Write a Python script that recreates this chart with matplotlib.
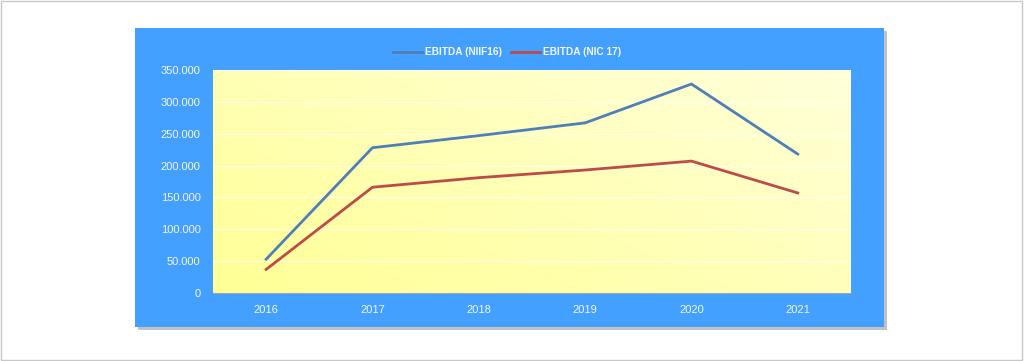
import numpy as np
import matplotlib
matplotlib.use("Agg")
import matplotlib.pyplot as plt
from matplotlib.patches import Rectangle
from matplotlib.ticker import FuncFormatter

years = ["2016", "2017", "2018", "2019", "2020", "2021"]
ebitda_niif16 = [53000, 228000, 247000, 267000, 328000, 218000]
ebitda_nic17 = [37000, 166000, 181000, 193000, 207000, 157000]

BLUE_BG = "#43A0FF"
LINE_BLUE = "#4F7FB8"
LINE_RED = "#BE4B48"
TEXT = "#F2F6FF"

plt.rcParams["font.family"] = ["Liberation Sans", "DejaVu Sans"]

fig = plt.figure(figsize=(10.24, 3.61), dpi=100)
fig.patch.set_facecolor("white")

# outer thin grey frame
fig.patches.append(Rectangle((0.001, 0.002), 0.997, 0.995, transform=fig.transFigure,
                             fill=False, edgecolor="#C8C8C8", linewidth=1, zorder=-10))
# drop shadow + blue chart box
fig.patches.append(Rectangle((0.1348, 0.0860), 0.7314, 0.828, transform=fig.transFigure,
                             facecolor="#9A9A9A", edgecolor="none", alpha=0.6, zorder=-10))
fig.patches.append(Rectangle((0.1318, 0.0942), 0.7314, 0.828, transform=fig.transFigure,
                             facecolor=BLUE_BG, edgecolor="none", zorder=-9))

ax = fig.add_axes([0.208, 0.1884, 0.623, 0.6177])
ax.set_facecolor("none")

x = np.arange(len(years))
ax.set_xlim(-0.5, len(years) - 0.5)
ax.set_ylim(0, 350000)

# yellow gradient background (stronger yellow lower-left, paler upper-right)
gx, gy = np.meshgrid(np.linspace(0, 1, 200), np.linspace(0, 1, 100))
t = np.clip(0.55 * gx + 0.45 * gy, 0, 1)
c0 = np.array([255, 255, 150]) / 255
c1 = np.array([255, 255, 218]) / 255
img = c0[None, None, :] * (1 - t[..., None]) + c1[None, None, :] * t[..., None]
ax.imshow(img, extent=(-0.5, len(years) - 0.5, 0, 350000), origin="lower",
          aspect="auto", zorder=0)

ax.yaxis.grid(True, color="white", linewidth=0.8, alpha=0.7, zorder=1)
ax.set_axisbelow(True)

ax.plot(x, ebitda_niif16, color=LINE_BLUE, linewidth=2, label="EBITDA (NIIF16)", zorder=3)
ax.plot(x, ebitda_nic17, color=LINE_RED, linewidth=2, label="EBITDA (NIC 17)", zorder=3)

ax.set_xticks(x)
ax.set_xticklabels(years)
ax.set_yticks(np.arange(0, 350001, 50000))
ax.yaxis.set_major_formatter(FuncFormatter(lambda v, p: f"{int(v):,}".replace(",", ".")))
ax.tick_params(axis="both", colors=TEXT, labelsize=8, length=0)
ax.tick_params(axis="x", pad=9)
ax.tick_params(axis="y", pad=9)
for s in ["top", "right", "left"]:
    ax.spines[s].set_visible(False)
ax.spines["bottom"].set_color("#9AA8B8")
ax.spines["bottom"].set_linewidth(0.8)

h, l = ax.get_legend_handles_labels()
leg = fig.legend(h, l, loc="center", bbox_to_anchor=(0.495, 0.855), ncol=2, frameon=False,
                 fontsize=7.3, handlelength=2.9, columnspacing=0.9, handletextpad=0.25)
for txt in leg.get_texts():
    txt.set_color(TEXT)
    txt.set_fontweight("bold")

fig.savefig("out.png", dpi=100)
